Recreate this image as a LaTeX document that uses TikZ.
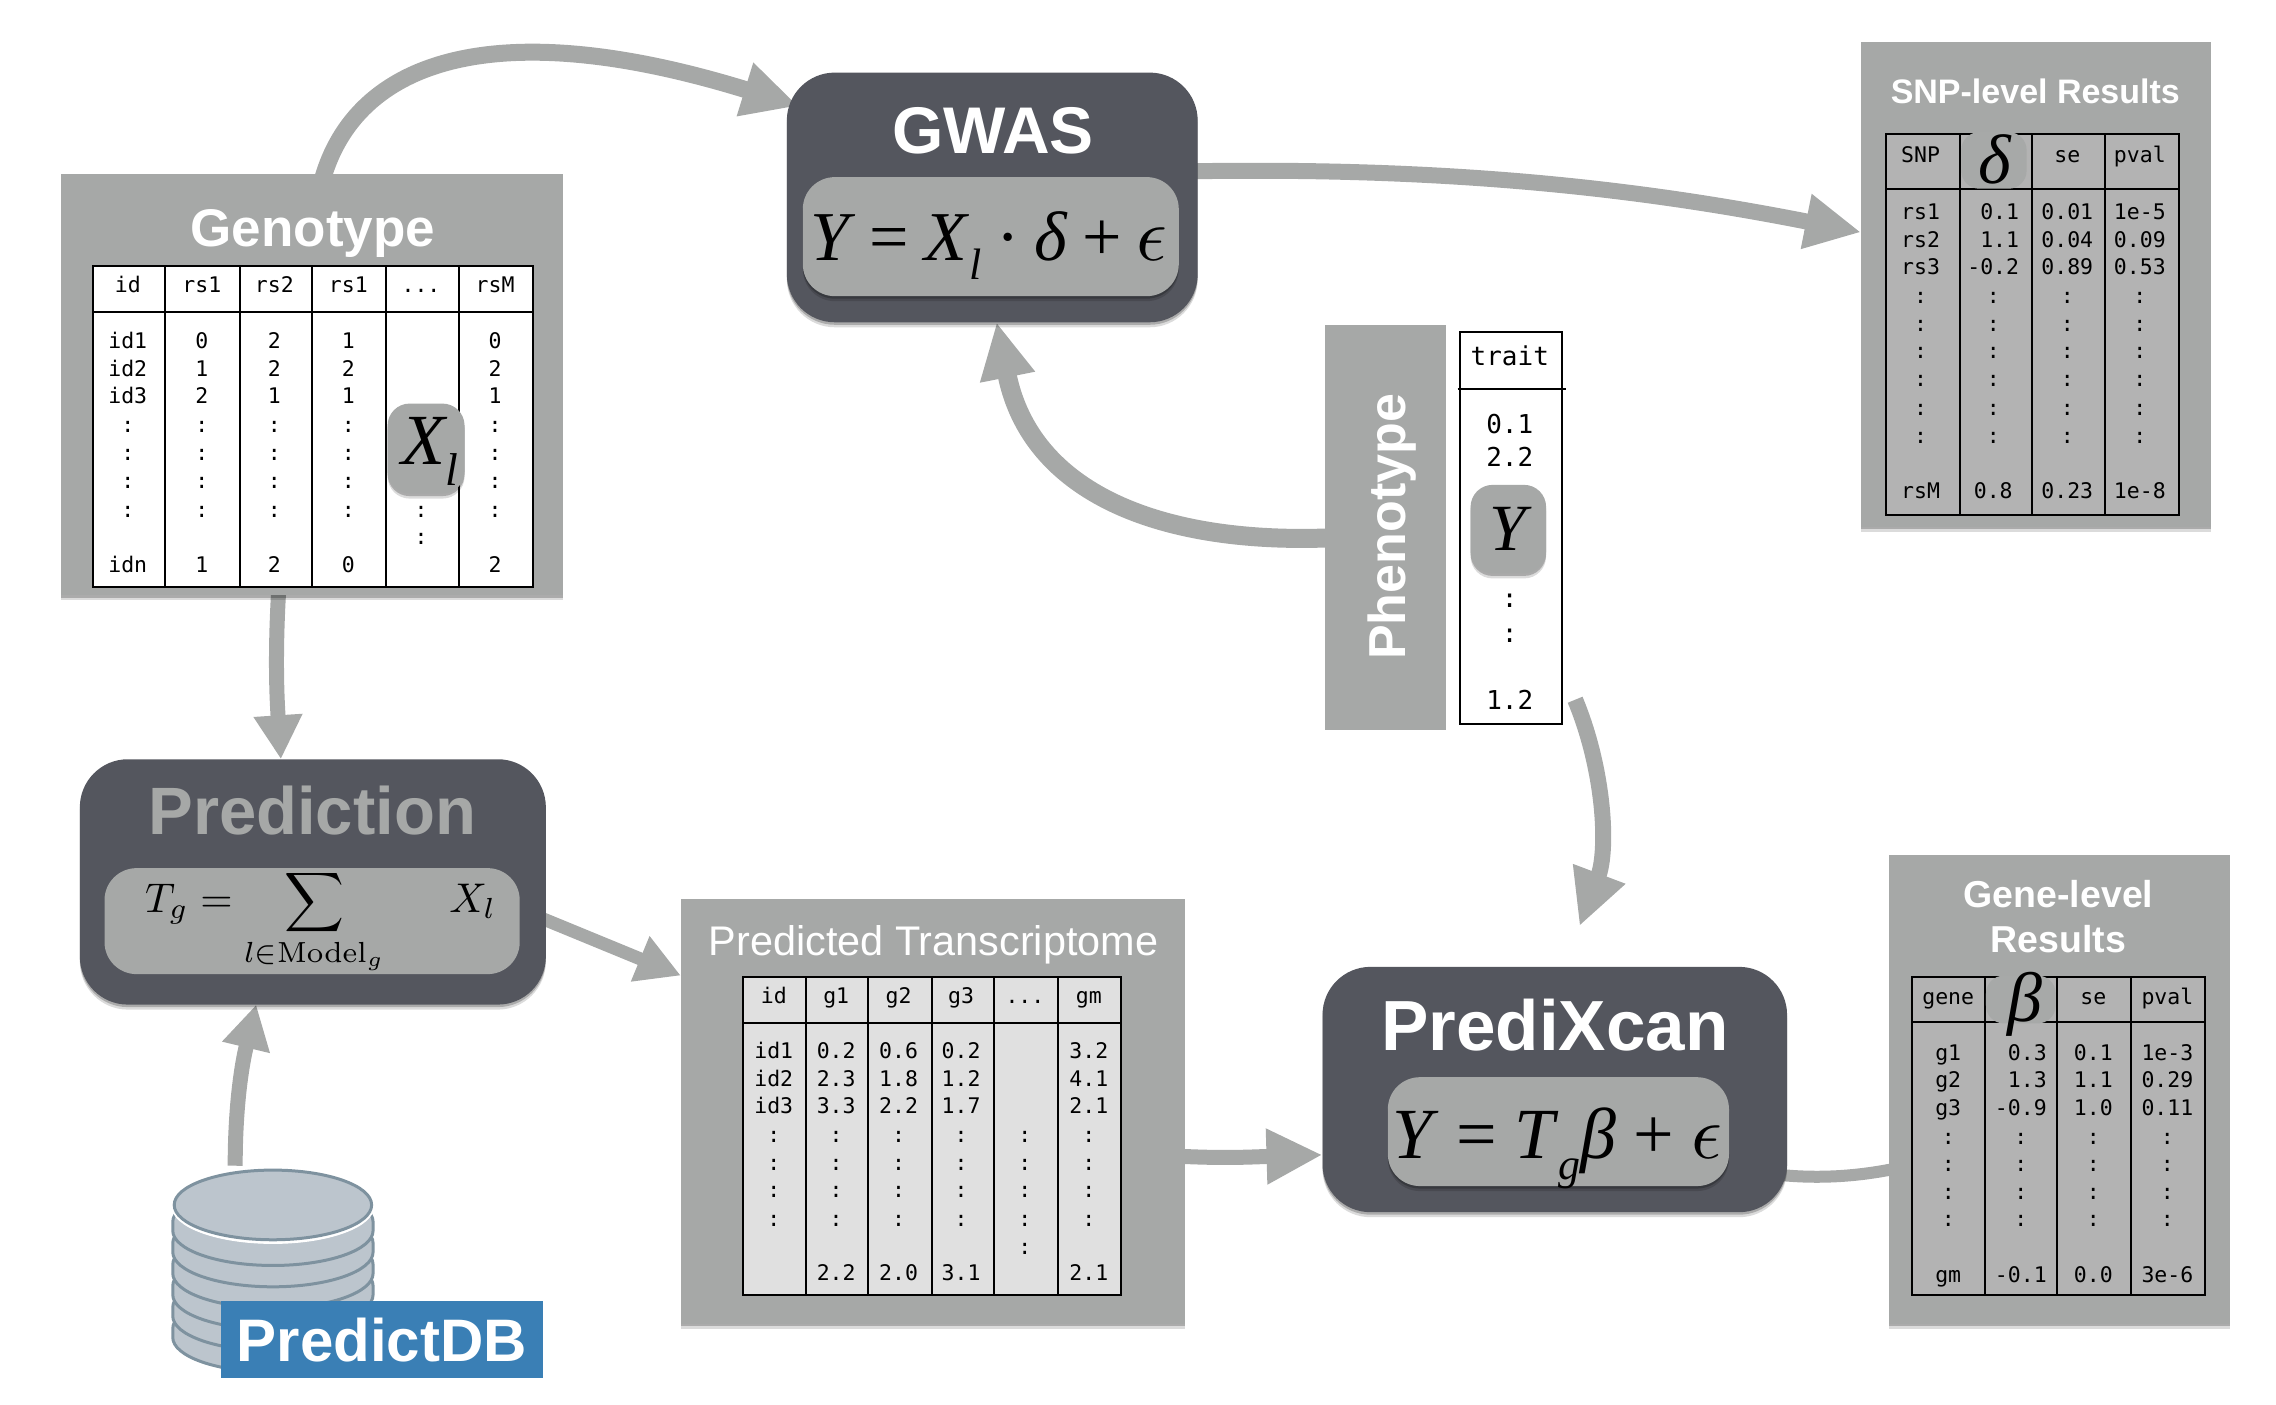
\documentclass[tikz,border=0pt]{standalone}
\usepackage{fontspec}
\usepackage{graphicx}
\setmainfont{Liberation Sans}
\newfontfamily\monof{DejaVu Sans Mono}
\newfontfamily\serf{Liberation Serif}
\DeclareMathAlphabet{\mathcmr}{OT1}{cmr}{m}{n}
\usetikzlibrary{arrows.meta,calc,shadows,shapes.geometric}
\definecolor{panelgray}{HTML}{A6A8A7}
\definecolor{darkbox}{HTML}{54565E}
\definecolor{tabgray}{HTML}{B3B3B3}
\definecolor{tablight}{HTML}{E0E0E0}
\definecolor{dbblue}{HTML}{3A7FB5}
\definecolor{diskfill}{HTML}{BCC5CD}
\definecolor{diskline}{HTML}{7E929F}
\pgfdeclarelayer{under}
\pgfsetlayers{under,main}
\newcommand{\fsz}[1]{\fontsize{#1}{#1}\selectfont}
\newcommand{\ddd}{...}
\newcommand{\lune}{\scalebox{7.6}{\fsz{10}$\epsilon$}}
\def\U{1.4517}
% box node from corner coordinates, given in picture units
\newcommand{\bx}[6]{\node[#1,minimum width={(#5-#3)*\U pt},minimum height={(#6-#4)*\U pt}] (#2) at ({(#3+#5)/2},{(#4+#6)/2}) {};}
% table column: prefix, x, row list, texts
\newcommand{\tcol}[4]{\foreach \celltxt [count=\n] in {#4} {\pgfmathsetmacro\yy{#3[\n-1]}\node[cell] (#1-\n) at (#2,\yy) {\celltxt};}}
\tikzset{
 softshadow/.style={general shadow={shadow xshift=0pt,shadow yshift=-2.5pt,fill=black,opacity=.22},general shadow={shadow xshift=0pt,shadow yshift=-5pt,fill=black,opacity=.14}},
 panel/.style={rectangle,fill=panelgray,inner sep=0pt,outer sep=0pt,softshadow},
 flatpanel/.style={rectangle,fill=panelgray,inner sep=0pt,outer sep=0pt},
 darkrnd/.style={rectangle,rounded corners=48pt,fill=darkbox,inner sep=0pt,outer sep=0pt,softshadow},
 innerrnd/.style={rectangle,rounded corners=32pt,fill=panelgray,inner sep=0pt,outer sep=0pt,softshadow},
 pill/.style={rectangle,rounded corners=22pt,fill=panelgray,inner sep=0pt,outer sep=0pt,softshadow},
 softpill/.style={rectangle,rounded corners=18pt,fill=panelgray!90!tabgray,inner sep=0pt,outer sep=0pt},
 tablebox/.style={rectangle,draw=black,line width=2pt,inner sep=0pt,outer sep=0pt},
 tabline/.style={draw=black,line width=2pt},
 cell/.style={font=\monof\fsz{21.5},text=black,inner sep=0pt,text height=15pt,text depth=0pt},
 bigcell/.style={cell,font=\monof\fsz{26},text height=19pt},
 heading/.style={font=\bfseries\fsz{#1},text=white,inner sep=0pt},
 eq/.style={font=\serf\fsz{#1},text=black,inner sep=0pt},
 conn/.style={draw=panelgray,line width=#1,line cap=butt},
 tipA/.style={-{Triangle[width=52pt,length=56pt,color=panelgray]}},
 tipB/.style={-{Triangle[width=46pt,length=44pt,color=panelgray]}},
 disk/.style={draw=diskline,fill=diskfill,line width=3pt},
}
\begin{document}
\begin{tikzpicture}[x=\U pt,y=-\U pt]
\useasboundingbox (0,0) rectangle (1567.8,967.14);
\def\rowsA{{196,235,254,273,293,312,331,351,389}}
\def\rowsAd{{196,351,370}}
\def\rowsS{{107,146,165,184,204,223,242,261,281,300,338}}
\def\rowsSb{{146,165,184,204,223,242,261,281,300,338}}
\def\rowsT{{686,724,743,762,782,801,820,840,877}}
\def\rowsTi{{686,724,743,762,782,801,820,840}}
\def\rowsTd{{686,782,801,820,840,859}}
\def\rowsG{{687,725,744,763,783,802,821,840,878}}
\def\rowsGb{{725,744,763,783,802,821,840,878}}
\def\rowsP{{245,292,315,412,436,482}}

%% ---- Genotype
\bx{panel}{gen}{42}{120}{388}{410}
\node[heading=53] (genT) at (215.5,161) {Genotype};
\node[tablebox,fill=white,minimum width={303*\U pt},minimum height={221*\U pt}] (genTab) at (215.5,293.5) {};
\draw[tabline] (genTab.west |- 0,215) -- (genTab.east |- 0,215);
\foreach \sx in {114,165,215,266,316} \draw[tabline] (\sx,183) -- (\sx,404);
\tcol{ga}{88}{\rowsA}{id,id1,id2,id3,:,:,:,:,idn}
\tcol{gb}{139}{\rowsA}{rs1,0,1,2,:,:,:,:,1}
\tcol{gc}{189}{\rowsA}{rs2,2,2,1,:,:,:,:,2}
\tcol{gd}{240}{\rowsA}{rs1,1,2,1,:,:,:,:,0}
\tcol{ge}{290}{\rowsAd}{\ddd,:,:}
\tcol{gf}{341}{\rowsA}{rsM,0,2,1,:,:,:,:,2}
\bx{pill}{xl}{267}{278}{320}{340}
\node[eq=60,font=\serf\itshape\fsz{72}] (xlT) at (296,311) {X\raisebox{-.28em}{\fsz{46}l}};

%% ---- GWAS
\bx{darkrnd}{gwas}{542}{50}{825}{222}
\node[heading=66] (gwasT) at (684,90) {GWAS};
\bx{innerrnd}{gwasI}{553}{122}{812}{204}
\node[eq=70] (gwasE) at (681,169) {\textit{Y}\hspace{.21em}=\hspace{.21em}\textit{X}\raisebox{-.28em}{\fsz{44}\textit{l}}\hspace{.21em}·\hspace{.21em}\textit{δ}\hspace{.21em}+\hspace{.21em}\lune};

%% ---- SNP results
\bx{panel}{snp}{1282}{29}{1523}{363}
\node[heading=34] (snpT) at (1402,63) {SNP-level Results};
\node[tablebox,fill=tabgray,minimum width={202*\U pt},minimum height={263*\U pt}] (snpTab) at (1400,223.5) {};
\draw[tabline] (snpTab.west |- 0,130) -- (snpTab.east |- 0,130);
\foreach \sx in {1350,1400,1450} \draw[tabline] (\sx,92) -- (\sx,355);
\tcol{sa}{1323}{\rowsS}{SNP,rs1,rs2,rs3,:,:,:,:,:,:,rsM}
\tcol{sb}{1373}{\rowsSb}{\phantom{-}0.1,\phantom{-}1.1,-0.2,:,:,:,:,:,:,0.8}
\tcol{sc}{1424}{\rowsS}{se,0.01,0.04,0.89,:,:,:,:,:,:,0.23}
\tcol{sd}{1474}{\rowsS}{pval,1e-5,0.09,0.53,:,:,:,:,:,:,1e-8}
\bx{softpill}{dp}{1351}{91}{1396}{130}
\node[eq=66,font=\serf\itshape\fsz{70}] (dpT) at (1374,110) {δ};

%% ---- Phenotype
\bx{flatpanel}{phe}{913}{224}{996}{503}
\node[heading=52,rotate=90] (pheT) at (959,363) {Phenotype};
\node[tablebox,fill=white,minimum width={70*\U pt},minimum height={270*\U pt}] (pheTab) at (1041,364) {};
\draw[tabline] (1004,268) -- (1079,268);
\foreach \celltxt [count=\n] in {trait,0.1,2.2,:,:,1.2} {\pgfmathsetmacro\yy{\rowsP[\n-1]}\node[bigcell] (pc-\n) at (1040,\yy) {\celltxt};}
\bx{pill}{yp}{1013}{334}{1065}{395}
\node[eq=66,font=\serf\itshape\fsz{66}] (ypT) at (1039,364) {Y};

%% ---- Prediction
\bx{darkrnd}{pred}{55}{523}{376}{692}
\node[heading=67,text=panelgray] (predT) at (215,558) {Prediction};
\node[rectangle,rounded corners=32pt,fill=panelgray,inner sep=0pt,outer sep=0pt,minimum width={286*\U pt},minimum height={73*\U pt}] (predI) at (215,634.5) {};
\node[scale=4.15,inner sep=0pt] (predE) at (221,635) {$\displaystyle T_g=\sum_{l\in\mathcmr{Model}_g}\hspace{14pt}X_l$};

%% ---- Predicted Transcriptome
\bx{panel}{tra}{469}{619}{816}{912}
\node[font=\fsz{41.4},text=white,inner sep=0pt] (traT) at (643,651) {Predicted Transcriptome};
\node[tablebox,fill=tablight,minimum width={260*\U pt},minimum height={219*\U pt}] (traTab) at (642,782.5) {};
\draw[tabline] (traTab.west |- 0,705) -- (traTab.east |- 0,705);
\foreach \sx in {555,598,642,685,729} \draw[tabline] (\sx,673) -- (\sx,892);
\tcol{ta}{533}{\rowsTi}{id,id1,id2,id3,:,:,:,:}
\tcol{tb}{576}{\rowsT}{g1,0.2,2.3,3.3,:,:,:,:,2.2}
\tcol{tc}{619}{\rowsT}{g2,0.6,1.8,2.2,:,:,:,:,2.0}
\tcol{td}{662}{\rowsT}{g3,0.2,1.2,1.7,:,:,:,:,3.1}
\tcol{te}{706}{\rowsTd}{\ddd,:,:,:,:,:}
\tcol{tf}{750}{\rowsT}{gm,3.2,4.1,2.1,:,:,:,:,2.1}

%% ---- PrediXcan
\bx{darkrnd}{pxc}{911}{666}{1231}{835}
\node[heading=71] (pxcT) at (1071,706) {PrediXcan};
\bx{innerrnd}{pxcI}{956}{742}{1191}{817}
\node[eq=72] (pxcE) at (1073,791) {\textit{Y}\hspace{.24em}=\hspace{.24em}\textit{T}\raisebox{-.3em}{\fsz{44}\textit{g}}\textit{β}\hspace{.24em}+\hspace{.24em}\lune};

%% ---- Gene-level results
\bx{panel}{gene}{1301}{589}{1536}{912}
\node[heading=37.5] (geneT1) at (1418,616) {Gene-level};
\node[heading=37.5] (geneT2) at (1418,647) {Results};
\node[tablebox,fill=tabgray,minimum width={202*\U pt},minimum height={219*\U pt}] (geneTab) at (1418,782.5) {};
\draw[tabline] (geneTab.west |- 0,704) -- (geneTab.east |- 0,704);
\foreach \sx in {1367,1417,1468} \draw[tabline] (\sx,673) -- (\sx,892);
\tcol{ka}{1342}{\rowsG}{gene,g1,g2,g3,:,:,:,:,gm}
\tcol{kb}{1392}{\rowsGb}{\phantom{-}0.3,\phantom{-}1.3,-0.9,:,:,:,:,-0.1}
\tcol{kc}{1442}{\rowsG}{se,0.1,1.1,1.0,:,:,:,:,0.0}
\tcol{kd}{1493}{\rowsG}{pval,1e-3,0.29,0.11,:,:,:,:,3e-6}
\bx{softpill}{bp}{1368}{672}{1416}{705}
\node[eq=66,font=\serf\itshape\fsz{70}] (bpT) at (1395,692) {β};

%% ---- PredictDB stack
\foreach \i in {6,5,...,1} {
  \pgfmathsetmacro\cy{830+\i*14.7-3}
  \draw[disk] (119,\cy) -- (119,\cy+6) arc[start angle=180,end angle=0,x radius=69,y radius=24] -- (257,\cy) arc[start angle=0,end angle=-180,x radius=69,y radius=24] -- cycle;
}
\node[ellipse,draw=white,line width=1pt,fill=white,minimum width={139*\U pt},minimum height={51*\U pt},inner sep=0pt,outer sep=0pt] (dbH) at (188,831) {};
\node[disk,ellipse,minimum width={136*\U pt},minimum height={48*\U pt},inner sep=0pt,outer sep=0pt] (db) at (188,830) {};
\bx{flatpanel,fill=dbblue}{dbl}{152}{896}{374}{949}
\node[heading=60] (dblT) at (263,923) {PredictDB};

%% ---- connectors
\begin{pgfonlayer}{under}
\draw[conn=17pt,tipA] ($(gen.north)+(7,4)$) .. controls (245,42) and (340,8) .. ($(gwas.north west)+(8,23)$);
\draw[conn=16pt,tipA] ($(gwas.east)+(-5,-18)$) .. controls (1000,115) and (1130,130) .. ($(snp.west)+(0,-36)$);
\draw[conn=19pt,tipA] ($(phe.west)+(3,7)$) .. controls (800,375) and (710,340) .. ($(gwas.south)+(3,0)$);
\draw[conn=16pt,tipA] ($(pheTab.south east)+(9,-17)$) .. controls (1105,530) and (1108,585) .. ($(pxc.north)+(17,-28)$);
\draw[conn=15pt,tipB] ($(gen.south)+(-23,-4)$) .. controls (190,440) and (190,470) .. ($(pred.north)+(-22,0)$);
\draw[conn=15pt,tipB] ($(db.north)+(-26,-3)$) .. controls (162,770) and (165,740) .. ($(pred.south)+(-39,0)$);
\draw[conn=13pt,tipB] ($(pred.east)+(-3,25)$) -- ($(tra.north west)+(0,53)$);
\draw[conn=15pt,tipA] ($(tra.east)+(-3,31)$) .. controls (845,798) and (860,797) .. ($(pxc.west)+(0,45)$);
\draw[conn=12pt] ($(pxc.east)+(-3,59)$) .. controls (1255,812) and (1280,810) .. ($(gene.west)+(2,55)$);
\end{pgfonlayer}
\end{tikzpicture}
\end{document}
